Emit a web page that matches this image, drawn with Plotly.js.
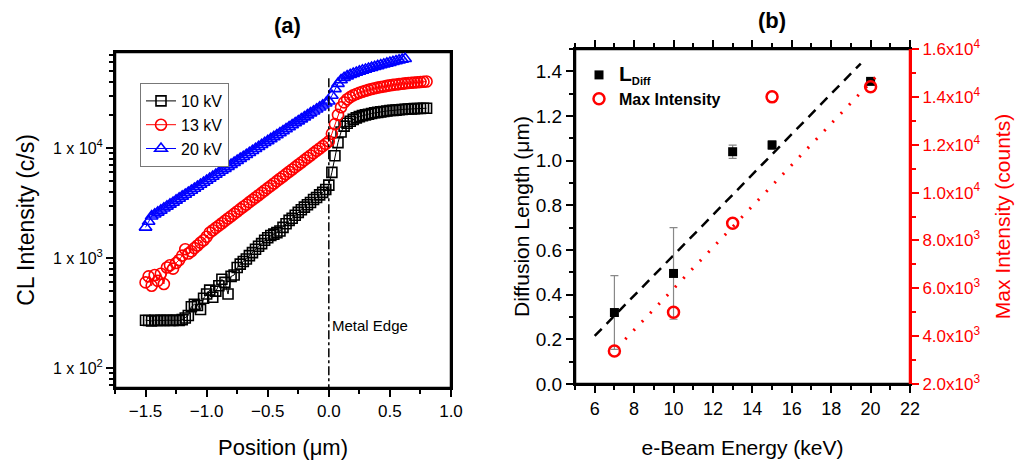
<!DOCTYPE html>
<html>
<head>
<meta charset="utf-8">
<script src="https://cdn.plot.ly/plotly-3.0.1.min.js"></script>
<style>html,body{margin:0;padding:0;background:#fff}#chart{width:1033px;height:464px}#dbg{position:absolute;left:0;bottom:0;font:9px monospace;color:#999}</style>
</head>
<body>
<div id="chart"></div>
<div id="dbg"></div>
<script>
// ---------- Panel (a): CL intensity line scans ----------
const position = [-1.500,-1.475,-1.450,-1.425,-1.400,-1.375,-1.350,-1.325,-1.300,-1.275,-1.250,-1.225,-1.200,-1.175,-1.150,-1.125,-1.100,-1.075,-1.050,-1.025,
  -1.000,-0.975,-0.950,-0.925,-0.900,-0.875,-0.850,-0.825,-0.800,-0.775,-0.750,-0.725,-0.700,-0.675,-0.650,-0.625,-0.600,-0.575,-0.550,-0.525,
  -0.500,-0.475,-0.450,-0.425,-0.400,-0.375,-0.350,-0.325,-0.300,-0.275,-0.250,-0.225,-0.200,-0.175,-0.150,-0.125,-0.100,-0.075,-0.050,-0.025,
  0.000,0.025,0.050,0.075,0.100,0.125,0.150,0.175,0.200,0.225,0.250,0.275,0.300,0.325,0.350,0.375,0.400,0.425,0.450,0.475,
  0.500,0.525,0.550,0.575,0.600,0.625,0.650,0.675,0.700,0.725,0.750,0.775,0.800];

const cl10kV = [272,270,268,272,270,271,270,272,270,271,272,270,275,285,300,360,380,370,340,430,
  470,510,440,500,560,640,600,470,680,700,820,880,930,980,1050,1120,1200,1280,1350,1450,
  1530,1600,1650,1700,1760,1900,2050,2200,2300,2450,2600,2750,2900,3050,3200,3400,3550,3750,3950,4200,
  4600,6000,8500,11200,14000,15800,16800,17500,18200,18800,19300,19700,20000,20300,20600,20900,21100,21300,21500,21700,
  21900,22000,22100,22250,22400,22500,22600,22700,22800,22850,22900,23000,23000];

const cl13kV = [600,680,560,700,620,720,580,820,860,800,900,960,1050,1200,1100,1150,1230,1300,1380,1450,
  1560,1700,1790,1880,1970,2070,2175,2285,2400,2520,2645,2780,2920,3060,3220,3380,3550,3720,3910,4110,
  4315,4530,4760,5000,5250,5510,5790,6080,6380,6700,7040,7390,7760,8150,8560,8990,9440,9910,10400,10900,
  11500,13500,16500,20000,23500,26000,27800,29000,30200,31000,31800,32500,33200,33800,34400,34900,35400,35900,36300,36700,
  37100,37500,37800,38100,38400,38700,39000,39200,39400,39600,39800,40000,40200];

const cl20kV = [1900,2150,2400,2500,2600,2710,2830,2950,3070,3200,3340,3480,3630,3780,3940,4110,4290,4470,4660,4860,
  5060,5280,5500,5740,5980,6240,6500,6780,7060,7360,7680,8000,8340,8690,9060,9440,9840,10260,10700,11150,
  11610,12100,12620,13150,13700,14280,14890,15520,16180,16860,17570,18320,19090,19900,20740,21610,22530,23490,24480,25500,
  26600,30000,34500,38500,41500,43500,45000,46300,47500,48600,49700,50800,51800,52800,53800,54800,55800,56800,57800,58800,
  59800,60800,61800,62800,63800,64800];

const seriesNamesA = ["10 kV", "13 kV", "20 kV"];
const metalEdgeX = [0, 0];
const metalEdgeY = [43000, 50];
const yTickValsA = [100, 1000, 10000];
const yTickTextA = ["1 x 10<sup>2</sup>", "1 x 10<sup>3</sup>", "1 x 10<sup>4</sup>"];
const yMinorValsA = [70,80,90,200,300,400,500,600,700,800,900,2000,3000,4000,5000,6000,7000,8000,9000,20000,30000,40000,50000,60000,70000];

// ---------- Panel (b): diffusion length & max intensity ----------
const energy = [7, 10, 13, 15, 20];
const lDiff = [0.32, 0.495, 1.04, 1.07, 1.355];
const lDiffErr = [0.165, 0.205, 0.03, 0.02, 0.01];
const maxIntensity = [3380, 5000, 8720, 14000, 14420];
const fitLDiffX = [6, 19.5];
const fitLDiffY = [0.215, 1.435];
const fitMaxX = [7.55, 20.25];
const fitMaxY = [3870, 14820];
const y3TickVals = [2000,4000,6000,8000,10000,12000,14000,16000];
const y3TickText = ["2.0x10<sup>3</sup>","4.0x10<sup>3</sup>","6.0x10<sup>3</sup>","8.0x10<sup>3</sup>",
  "1.0x10<sup>4</sup>","1.2x10<sup>4</sup>","1.4x10<sup>4</sup>","1.6x10<sup>4</sup>"];

// axis ranges
const xRangeA = [-1.75, 1.0], yRangeA = [1.818, 4.873];
const xRangeB = [5, 22], yRangeB = [0, 1.5], y3RangeB = [2000, 16000];

const FONT = "Arial, 'Liberation Sans', sans-serif";
const W = 1033, H = 464;
const px = v => v / W, py = v => 1 - v / H;

// frame outlines following the axis ranges (drawn as traces so they always render)
const frameA = {x: [xRangeA[0], xRangeA[1], xRangeA[1], xRangeA[0], xRangeA[0]],
  y: [Math.pow(10, yRangeA[0]), Math.pow(10, yRangeA[0]), Math.pow(10, yRangeA[1]), Math.pow(10, yRangeA[1]), Math.pow(10, yRangeA[0])],
  xaxis: "x", yaxis: "y", mode: "lines", showlegend: false, hoverinfo: "skip", line: {color: "#000", width: 2.5}};
const frameB = {x: [xRangeB[1], xRangeB[0], xRangeB[0], xRangeB[1]], y: [yRangeB[1], yRangeB[1], yRangeB[0], yRangeB[0]],
  xaxis: "x2", yaxis: "y2", mode: "lines", showlegend: false, hoverinfo: "skip", line: {color: "#000", width: 2.5}};
const frameBRight = {x: [xRangeB[1], xRangeB[1]], y: [yRangeB[0], yRangeB[1]],
  xaxis: "x2", yaxis: "y2", mode: "lines", showlegend: false, hoverinfo: "skip", line: {color: "#ff0000", width: 2.5}};

const traces = [
  frameA, frameB, frameBRight,
  {x: position, y: cl10kV, name: seriesNamesA[0], xaxis: "x", yaxis: "y", mode: "lines+markers",
   line: {color: "#000", width: 1}, marker: {symbol: "square-open", size: 10, color: "#000", line: {width: 1.6}}},
  {x: position, y: cl13kV, name: seriesNamesA[1], xaxis: "x", yaxis: "y", mode: "lines+markers",
   line: {color: "#ff0000", width: 1}, marker: {symbol: "circle-open", size: 11, color: "#ff0000", line: {width: 1.6}}},
  {x: position.slice(0, cl20kV.length), y: cl20kV, name: seriesNamesA[2], xaxis: "x", yaxis: "y", mode: "lines+markers",
   line: {color: "#0000ff", width: 1}, marker: {symbol: "triangle-up-open", size: 11, color: "#0000ff", line: {width: 1.6}}},
  {x: metalEdgeX, y: metalEdgeY, xaxis: "x", yaxis: "y", mode: "lines", showlegend: false, hoverinfo: "skip",
   line: {color: "#000", width: 1.5, dash: "dashdot"}},
  // panel b
  {x: fitLDiffX, y: fitLDiffY, xaxis: "x2", yaxis: "y2", mode: "lines", showlegend: false, hoverinfo: "skip",
   line: {color: "#000", width: 2.5, dash: "10px,7px"}},
  {x: fitMaxX, y: fitMaxY, xaxis: "x2", yaxis: "y3", mode: "lines", showlegend: false, hoverinfo: "skip",
   line: {color: "#ff0000", width: 3, dash: "2px,10px"}},
  {x: energy, y: lDiff, name: "<b><span style='font-size:21px'>L</span><sub>Diff</sub></b>", xaxis: "x2", yaxis: "y2", mode: "markers", legend: "legend2",
   error_y: {type: "data", array: lDiffErr, color: "#888", thickness: 1.2, width: 4},
   marker: {symbol: "square", size: 9, color: "#000"}},
  {x: energy, y: maxIntensity, name: "<b>Max Intensity</b>", xaxis: "x2", yaxis: "y3", mode: "markers", legend: "legend2",
   marker: {symbol: "circle-open", size: 11, color: "#ff0000", line: {width: 2.5}}}
];

const baseAxis = {showgrid: false, zeroline: false, showline: true, linecolor: "#000", linewidth: 2,
  ticks: "outside", tickcolor: "#000", tickwidth: 1.5, ticklen: 7, automargin: false};

const layout = {
  width: W, height: H, margin: {l: 0, r: 0, t: 0, b: 0},
  paper_bgcolor: "#fff", plot_bgcolor: "#fff",
  font: {family: FONT, color: "#000"},
  xaxis: Object.assign({}, baseAxis, {
    domain: [px(115), px(451)], anchor: "y", range: xRangeA, mirror: true,
    tickmode: "linear", tick0: -1.5, dtick: 0.5, tickformat: ".1f",
    minor: {dtick: 0.25, tick0: -1.75, ticks: "outside", ticklen: 4, tickcolor: "#000"},
    tickfont: {size: 17, family: FONT},
    title: {text: "Position (\u03bcm)", font: {size: 22, family: FONT}, standoff: 19}
  }),
  yaxis: Object.assign({}, baseAxis, {
    domain: [py(388), py(52)], anchor: "x", type: "log", range: yRangeA, mirror: true,
    tickmode: "array", tickvals: yTickValsA, ticktext: yTickTextA,
    minor: {tickmode: "array", tickvals: yMinorValsA, ticks: "outside", ticklen: 4, tickcolor: "#000"},
    tickfont: {size: 16, family: FONT},
    title: {text: "CL Intensity (c/s)", font: {size: 23, family: FONT}, standoff: 12}
  }),
  xaxis2: Object.assign({}, baseAxis, {
    domain: [px(575), px(910)], anchor: "y2", range: xRangeB, mirror: "ticks",
    tickmode: "linear", tick0: 6, dtick: 2,
    minor: {dtick: 1, tick0: 5, ticks: "outside", ticklen: 4, tickcolor: "#000"},
    tickfont: {size: 18, family: FONT},
    title: {text: "e-Beam Energy (keV)", font: {size: 21, family: FONT}, standoff: 23}
  }),
  yaxis2: Object.assign({}, baseAxis, {
    domain: [py(384), py(49)], anchor: "x2", range: yRangeB,
    tickmode: "linear", tick0: 0, dtick: 0.2, tickformat: ".1f",
    minor: {dtick: 0.1, tick0: 0, ticks: "outside", ticklen: 4, tickcolor: "#000"},
    tickfont: {size: 19, family: FONT},
    title: {text: "Diffusion Length (\u03bcm)", font: {size: 21, family: FONT}, standoff: 0}
  }),
  yaxis3: Object.assign({}, baseAxis, {
    anchor: "x2", overlaying: "y2", side: "right", range: y3RangeB,
    linecolor: "#ff0000", tickcolor: "#ff0000",
    tickmode: "array", tickvals: y3TickVals, ticktext: y3TickText,
    minor: {dtick: 1000, tick0: 2000, ticks: "outside", ticklen: 4, tickcolor: "#ff0000"},
    tickfont: {size: 17, family: FONT, color: "#ff0000"},
    title: {text: "Max Intensity (counts)", font: {size: 21, family: FONT, color: "#ff0000"}, standoff: 16}
  }),
  legend: {x: px(140), y: py(83), xanchor: "left", yanchor: "top", bgcolor: "#fff",
    bordercolor: "#777", borderwidth: 1, font: {size: 16, family: FONT}, tracegroupgap: 0, itemwidth: 30},
  legend2: {x: px(579), y: py(58), xanchor: "left", yanchor: "top", bgcolor: "rgba(0,0,0,0)",
    borderwidth: 0, font: {size: 16, family: FONT}, tracegroupgap: 0},
  annotations: [
    {text: "<b>(a)</b>", xref: "paper", yref: "paper", x: px(287), y: py(25), xanchor: "center", yanchor: "middle",
     showarrow: false, font: {size: 22, family: FONT}},
    {text: "<b>(b)</b>", xref: "paper", yref: "paper", x: px(772), y: py(20), xanchor: "center", yanchor: "middle",
     showarrow: false, font: {size: 22, family: FONT}},
    {text: "Metal Edge", xref: "x", yref: "y", x: 0.01, y: 2.39, xanchor: "left", showarrow: false,
     font: {size: 15, family: FONT}}
  ],
  showlegend: true
};

Plotly.newPlot("chart", traces, layout, {displayModeBar: false})
  .catch(function (e) { document.getElementById("dbg").textContent = "err: " + e; });
</script>
</body>
</html>
